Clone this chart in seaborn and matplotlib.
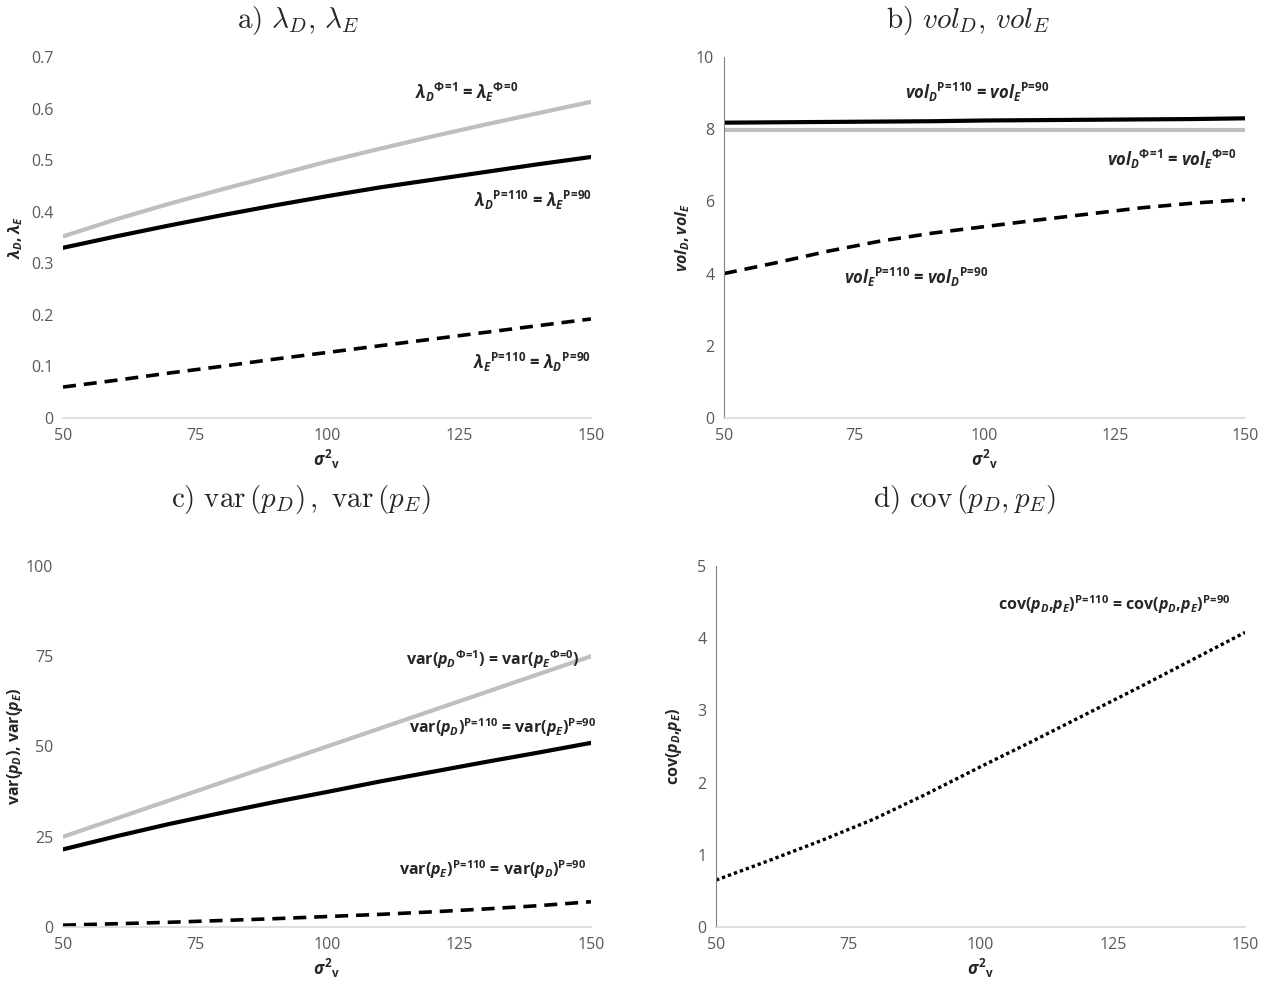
import matplotlib
matplotlib.use("Agg")
import matplotlib.pyplot as plt
import seaborn as sns
import pandas as pd

# x axis: sigma^2_v
sigma = [50, 60, 70, 80, 90, 100, 110, 120, 130, 140, 150]

# a) lambda
lam_phi = [0.352, 0.385, 0.415, 0.443, 0.470, 0.497, 0.522, 0.546, 0.569, 0.591, 0.613]
lam_p_own = [0.330, 0.352, 0.373, 0.393, 0.412, 0.430, 0.447, 0.462, 0.477, 0.492, 0.506]
lam_p_cross = [0.060, 0.073, 0.087, 0.100, 0.114, 0.127, 0.140, 0.153, 0.166, 0.179, 0.192]

# b) vol
vol_p_own = [8.18, 8.19, 8.20, 8.21, 8.22, 8.24, 8.25, 8.26, 8.27, 8.28, 8.30]
vol_phi = [7.97, 7.97, 7.97, 7.97, 7.97, 7.97, 7.97, 7.97, 7.97, 7.97, 7.97]
vol_p_cross = [4.00, 4.30, 4.62, 4.90, 5.12, 5.30, 5.48, 5.65, 5.82, 5.95, 6.05]

# c) var
var_phi = [25, 30, 35, 40, 45, 50, 55, 60, 65, 70, 75]
var_p_own = [21.5, 25.1, 28.5, 31.6, 34.6, 37.4, 40.3, 43.0, 45.7, 48.3, 51.0]
var_p_cross = [0.5, 0.9, 1.3, 1.8, 2.3, 2.9, 3.5, 4.2, 5.0, 5.9, 7.0]

# d) cov
cov_p = [0.65, 0.92, 1.20, 1.50, 1.85, 2.22, 2.58, 2.95, 3.32, 3.70, 4.08]

x_ticks = [50, 75, 100, 125, 150]

sns.set_theme(style="white")
plt.rcParams["font.family"] = ["Open Sans", "DejaVu Sans"]
plt.rcParams["mathtext.fontset"] = "custom"
plt.rcParams["mathtext.rm"] = "Open Sans:bold"
plt.rcParams["mathtext.it"] = "Open Sans:italic:bold"
plt.rcParams["mathtext.bf"] = "Open Sans:bold"
plt.rcParams["mathtext.sf"] = "Open Sans:bold"

GRAY = "#bfbfbf"
BLACK = "#000000"
DASH = (0, (3.6, 2.2))
DOT = (0, (1, 0.9))
TICKC = "#595959"
ANN_M = 12
ANN_T = 11.5

fig = plt.figure(figsize=(12.78, 9.94), dpi=100)
ax_a = fig.add_axes([0.0493, 0.5795, 0.4131, 0.3632])
ax_b = fig.add_axes([0.5665, 0.5795, 0.4077, 0.3632])
ax_c = fig.add_axes([0.0493, 0.0674, 0.4131, 0.3632])
ax_d = fig.add_axes([0.5603, 0.0674, 0.4139, 0.3632])


def line(ax, y, color, ls="-", lw=3.0):
    df = pd.DataFrame({"x": sigma, "y": y})
    sns.lineplot(data=df, x="x", y="y", ax=ax, color=color, linestyle=ls,
                 linewidth=lw, legend=False)


def style(ax, yticks, ylabels, ylabel, lab_x, left_spine=False):
    ax.set_xlim(50, 150)
    ax.set_ylim(yticks[0], yticks[-1])
    ax.set_xticks(x_ticks)
    ax.set_xticklabels([str(v) for v in x_ticks])
    ax.set_yticks(yticks)
    ax.set_yticklabels(ylabels)
    ax.tick_params(axis="both", length=0, labelsize=11.5, colors=TICKC, pad=7)
    for s in ["top", "right"]:
        ax.spines[s].set_visible(False)
    ax.spines["left"].set_visible(left_spine)
    ax.spines["left"].set_color("#808080")
    ax.spines["left"].set_linewidth(0.8)
    ax.spines["bottom"].set_color("#d9d9d9")
    ax.spines["bottom"].set_linewidth(1.2)
    ax.set_xlabel(r"$\sigma^{2}{}_{\mathrm{v}}$", fontsize=12, labelpad=3)
    ax.set_ylabel(ylabel, fontsize=11.5, fontweight="bold")
    ax.yaxis.set_label_coords(lab_x, 0.5)


def sup(s):
    return r"{}^{\mathrm{" + s + "}}"


PHI1 = sup(r"\Phi\!=\!1")
PHI0 = sup(r"\Phi\!=\!0")
P110 = sup(r"P\!=\!110")
P90 = sup(r"P\!=\!90")

# a)
line(ax_a, lam_phi, GRAY)
line(ax_a, lam_p_own, BLACK)
line(ax_a, lam_p_cross, BLACK, DASH, 2.6)
style(ax_a, [0, 0.1, 0.2, 0.3, 0.4, 0.5, 0.6, 0.7],
      ["0", "0.1", "0.2", "0.3", "0.4", "0.5", "0.6", "0.7"],
      r"$\lambda_{\mathit{D}}, \lambda_{\mathit{E}}$", -0.072)
ax_a.text(126.5, 0.632, r"$\lambda_{\mathit{D}}" + PHI1 + r"$ = $\lambda_{\mathit{E}}" + PHI0 + "$",
          ha="center", va="center", fontsize=ANN_M, fontweight="bold")
ax_a.text(139.0, 0.422, r"$\lambda_{\mathit{D}}" + P110 + r"$ = $\lambda_{\mathit{E}}" + P90 + "$",
          ha="center", va="center", fontsize=ANN_M, fontweight="bold")
ax_a.text(138.9, 0.108, r"$\lambda_{\mathit{E}}" + P110 + r"$ = $\lambda_{\mathit{D}}" + P90 + "$",
          ha="center", va="center", fontsize=ANN_M, fontweight="bold")

# b)
line(ax_b, vol_p_own, BLACK)
line(ax_b, vol_phi, GRAY)
line(ax_b, vol_p_cross, BLACK, DASH, 2.6)
style(ax_b, [0, 2, 4, 6, 8, 10], ["0", "2", "4", "6", "8", "10"],
      r"$\mathit{vol}_{\mathit{D}}, \mathit{vol}_{\mathit{E}}$", -0.061, left_spine=True)
ax_b.text(98.6, 9.03, r"$\mathit{vol}_{\mathit{D}}" + P110 + r"$ = $\mathit{vol}_{\mathit{E}}" + P90 + "$",
          ha="center", va="center", fontsize=ANN_M, fontweight="bold")
ax_b.text(136.0, 7.15, r"$\mathit{vol}_{\mathit{D}}" + PHI1 + r"$ = $\mathit{vol}_{\mathit{E}}" + PHI0 + "$",
          ha="center", va="center", fontsize=ANN_M, fontweight="bold")
ax_b.text(86.9, 3.9, r"$\mathit{vol}_{\mathit{E}}" + P110 + r"$ = $\mathit{vol}_{\mathit{D}}" + P90 + "$",
          ha="center", va="center", fontsize=ANN_M, fontweight="bold")

# c)
line(ax_c, var_phi, GRAY)
line(ax_c, var_p_own, BLACK)
line(ax_c, var_p_cross, BLACK, DASH, 2.6)
style(ax_c, [0, 25, 50, 75, 100], ["0", "25", "50", "75", "100"],
      r"var($\mathit{p}_{\mathit{D}}$), var($\mathit{p}_{\mathit{E}}$)", -0.072)
ax_c.text(131.5, 74, r"var($\mathit{p}_{\mathit{D}}" + PHI1 + r"$) = var($\mathit{p}_{\mathit{E}}" + PHI0 + "$)",
          ha="center", va="center", fontsize=ANN_T, fontweight="bold")
ax_c.text(133.3, 55.1, r"var($\mathit{p}_{\mathit{D}}$)$" + P110 + r"$ = var($\mathit{p}_{\mathit{E}}$)$" + P90 + "$",
          ha="center", va="center", fontsize=ANN_T, fontweight="bold")
ax_c.text(131.4, 15.8, r"var($\mathit{p}_{\mathit{E}}$)$" + P110 + r"$ = var($\mathit{p}_{\mathit{D}}$)$" + P90 + "$",
          ha="center", va="center", fontsize=ANN_T, fontweight="bold")

# d)
line(ax_d, cov_p, BLACK, DOT, 2.4)
style(ax_d, [0, 1, 2, 3, 4, 5], ["0", "1", "2", "3", "4", "5"],
      r"cov($\mathit{p}_{\mathit{D}}$,$\mathit{p}_{\mathit{E}}$)", -0.060, left_spine=True)
ax_d.text(125.2, 4.46,
          r"cov($\mathit{p}_{\mathit{D}}$,$\mathit{p}_{\mathit{E}}$)$" + P110
          + r"$ = cov($\mathit{p}_{\mathit{D}}$,$\mathit{p}_{\mathit{E}}$)$" + P90 + "$",
          ha="center", va="center", fontsize=ANN_T, fontweight="bold")

# panel titles (Computer Modern)
titles = [
    (0.233, 0.979, r"$\mathrm{a)}\ \lambda_D,\, \lambda_E$"),
    (0.757, 0.979, r"$\mathrm{b)}\ vol_D,\, vol_E$"),
    (0.235, 0.497, r"$\mathrm{c)}\ \mathrm{var}\,(p_D)\,,\ \mathrm{var}\,(p_E)$"),
    (0.755, 0.497, r"$\mathrm{d)}\ \mathrm{cov}\,(p_D, p_E)$"),
]
for tx, ty, t in titles:
    fig.text(tx, ty, t, ha="center", va="center", fontsize=21, math_fontfamily="cm")

fig.savefig("out.png", dpi=100)
